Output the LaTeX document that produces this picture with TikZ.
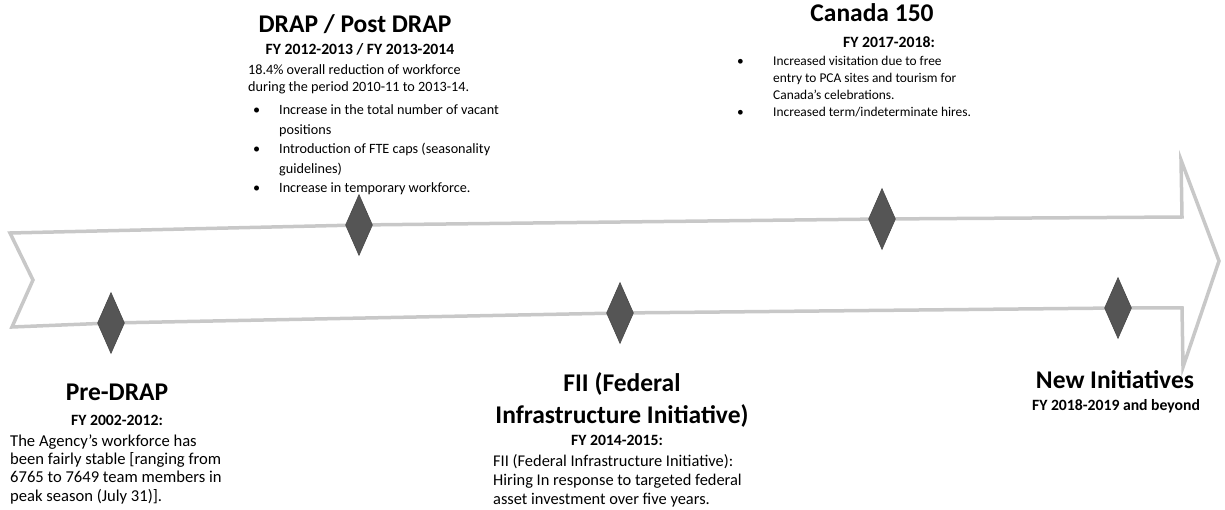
\documentclass[tikz,border=0pt]{standalone}
\usepackage{fontspec}
\setmainfont{Carlito}
\usetikzlibrary{shapes.geometric}
\definecolor{outline}{HTML}{C8C8C8}
\definecolor{gemfill}{HTML}{555555}
\begin{document}
\begin{tikzpicture}[x=1pt,y=-1pt,
  gem/.style={shape=diamond, fill=gemfill, draw=gemfill!85!black, line width=0.6pt, minimum width=27pt, minimum height=61pt, inner sep=0pt},
  frame/.style={draw=outline, line width=3.5pt, line join=miter},
  ttl/.style={font=\fontsize{25.5}{28}\selectfont\bfseries, anchor=base, inner sep=0pt},
  sub/.style={font=\fontsize{15.7}{18}\selectfont\bfseries, anchor=base, inner sep=0pt},
  txt/.style={anchor=base west, inner sep=0pt, align=left},
  bul/.style={anchor=base west, inner sep=0pt},
]
\useasboundingbox (0,0) rectangle (1225,510);
% arrow outline corners
\coordinate (tl) at (10,233);
\coordinate (nt) at (33,280);
\coordinate (bl) at (12,327);
\coordinate (g1) at (111,323);
\coordinate (g3) at (620,313);
\coordinate (g5) at (1118,308);
\coordinate (br) at (1182,308);
\coordinate (hb) at (1183,367);
\coordinate (tip) at (1219,261);
\coordinate (ht) at (1181,160);
\coordinate (tr) at (1182,217);
\coordinate (g4) at (882,219);
\coordinate (g2) at (359,225);
\draw[frame] (tl) -- (nt) -- (bl) -- (g1) -- (g3) -- (g5) -- (br) -- (hb) -- (tip) -- (ht) -- (tr) -- (g4) -- (g2) -- cycle;
% milestones
\node[gem] (d1) at (g1) {};
\node[gem] (d2) at (g2) {};
\node[gem] (d3) at (g3) {};
\node[gem] (d4) at (g4) {};
\node[gem] (d5) at (g5) {};
% Pre-DRAP (multi-line nodes are placed at the baseline of their last line)
\node[ttl] (t1) at (117,400) {Pre-DRAP};
\node[sub] (s1) at (117,425) {FY 2002-2012:};
\node[txt, font=\fontsize{16.6}{18.4}\selectfont] (b1) at (10,501.2) {The Agency’s workforce has\\been fairly stable [ranging from\\6765 to 7649 team members in\\peak season (July 31)].};
% DRAP
\node[ttl] (t2) at (355,33) {DRAP / Post DRAP};
\node[sub] (s2) at (360,55) {FY 2012-2013 / FY 2013-2014};
\node[txt, font=\fontsize{14.2}{16.5}\selectfont] (b2) at (248,91.5) {18.4\% overall reduction of workforce\\during the period 2010-11 to 2013-14.};
\node[bul, font=\fontsize{14.2}{19.5}\selectfont] (u1) at (253,115) {•};
\node[txt, font=\fontsize{14.2}{19.5}\selectfont] (i1) at (279,134.5) {Increase in the total number of vacant\\positions};
\node[bul, font=\fontsize{14.2}{19.5}\selectfont] (u2) at (253,154) {•};
\node[txt, font=\fontsize{14.2}{19.5}\selectfont] (i2) at (279,173.5) {Introduction of FTE caps (seasonality\\guidelines)};
\node[bul, font=\fontsize{14.2}{19.5}\selectfont] (u3) at (253,193) {•};
\node[txt, font=\fontsize{14.2}{19.5}\selectfont] (i3) at (279,193) {Increase in temporary workforce.};
% Canada 150
\node[ttl] (t3) at (872,22) {Canada 150};
\node[sub] (s3) at (889,48) {FY 2017-2018:};
\node[bul, font=\fontsize{13.4}{17}\selectfont] (u4) at (737,66) {•};
\node[txt, font=\fontsize{13.4}{17}\selectfont] (i4) at (773,100) {Increased visitation due to free\\entry to PCA sites and tourism for\\Canada’s celebrations.};
\node[bul, font=\fontsize{13.4}{17}\selectfont] (u5) at (737,117) {•};
\node[txt, font=\fontsize{13.4}{17}\selectfont] (i5) at (773,117) {Increased term/indeterminate hires.};
% FII
\node[ttl] (t4) at (622,391) {FII (Federal};
\node[ttl] (t5) at (622,423) {Infrastructure Initiative)};
\node[sub] (s4) at (617,445) {FY 2014-2015:};
\node[txt, font=\fontsize{16.4}{19}\selectfont] (b4) at (493,504) {FII (Federal Infrastructure Initiative):\\Hiring In response to targeted federal\\asset investment over five years.};
% New Initiatives
\node[ttl] (t6) at (1115,388) {New Initiatives};
\node[sub] (s5) at (1116,410) {FY 2018-2019 and beyond};
\end{tikzpicture}
\end{document}
